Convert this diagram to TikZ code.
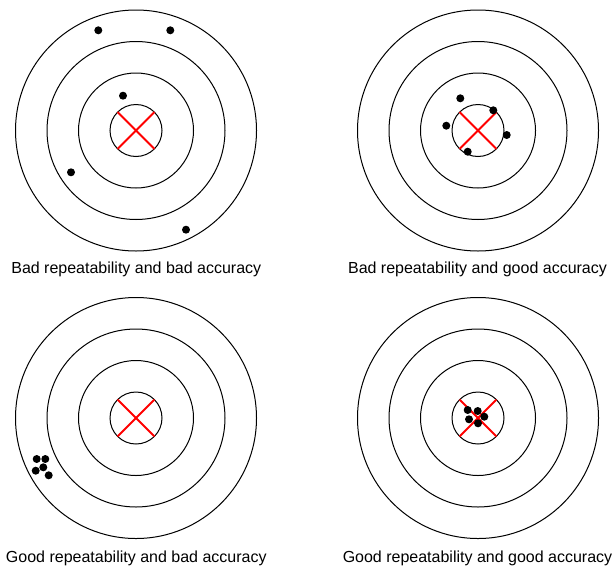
\documentclass[tikz,border=0pt]{standalone}
\usepackage{fontspec}
\setmainfont{Liberation Sans}
\usetikzlibrary{positioning,calc}

\begin{document}
\begin{tikzpicture}[
    x=1pt, y=-1pt,
    ring/.style={draw, line width=1pt},
    cross/.style={draw=red, line width=2pt},
    hit/.style={fill=black},
    caption/.style={font=\fontsize{16}{19}\selectfont, inner sep=0pt, anchor=base}
]
\useasboundingbox (0,0) rectangle (615,565);

% four targets
\foreach \cx/\cy/\n in {136/130.5/badbad, 478/130.5/badgood, 136/418/goodbad, 478/418/goodgood} {
    \coordinate (\n) at (\cx,\cy);
    \foreach \r in {26,57.5,89,120.5}
        \draw[ring] (\n) circle[radius=\r];
    \draw[cross] ($(\n)+(-18.4,-18.4)$) -- ($(\n)+(18.4,18.4)$);
    \draw[cross] ($(\n)+(-18.4,18.4)$) -- ($(\n)+(18.4,-18.4)$);
}

% hits
\foreach \hx/\hy in {98.3/30.3, 170.3/30.3, 123/95.7, 71/172.3, 186/229.7}
    \fill[hit] (\hx,\hy) circle[radius=4];
\foreach \hx/\hy in {460.3/98.3, 493.3/110.3, 446.3/125.7, 506.7/135, 467.7/151.7}
    \fill[hit] (\hx,\hy) circle[radius=4];
\foreach \hx/\hy in {36.7/459, 45.3/459, 35.7/470.7, 43.3/467.3, 48.7/475.3}
    \fill[hit] (\hx,\hy) circle[radius=4];
\foreach \hx/\hy in {467.7/410, 477.7/411, 469/419.3, 484.3/416.7, 478/423.3}
    \fill[hit] (\hx,\hy) circle[radius=4];

\node[caption] (capbadbad) at (136.3,273.3) {Bad repeatability and bad accuracy};
\node[caption] (capbadgood) at (477.5,273.3) {Bad repeatability and good accuracy};
\node[caption] (capgoodbad) at (136.3,562.7) {Good repeatability and bad accuracy};
\node[caption] (capgoodgood) at (477.5,562.7) {Good repeatability and good accuracy};
\end{tikzpicture}
\end{document}
